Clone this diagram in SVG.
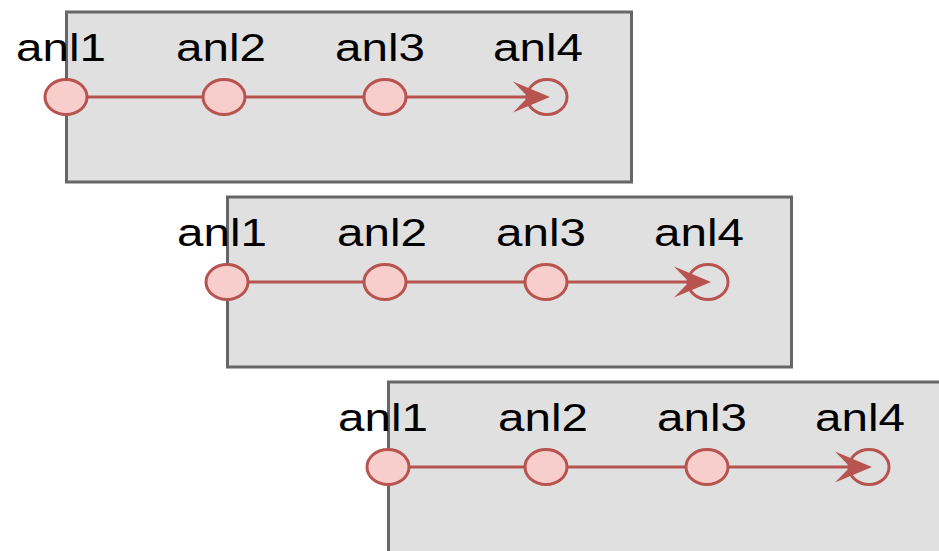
<svg xmlns="http://www.w3.org/2000/svg" width="939" height="551" viewBox="0 0 939 551">
<style>
.panel{fill:#e0e0e0;stroke:#666666;stroke-width:3}
.pt{fill:#f8cecc;stroke:#b85450;stroke-width:3}
.end{fill:none;stroke:#b85450;stroke-width:3}
.ln{stroke:#b85450;stroke-width:3;fill:none}
.ah{fill:#b85450;stroke:none}
.lb{font-family:"Liberation Sans",Arial,sans-serif;font-size:39px;fill:#000;text-anchor:middle}
</style>
<rect width="939" height="551" fill="#ffffff"/>
<g id="panel1">
<rect class="panel" x="66.5" y="12" width="565" height="170"/>
</g>
<g id="panel2">
<rect class="panel" x="227.5" y="197" width="564" height="170"/>
</g>
<g id="panel3">
<rect class="panel" x="388.5" y="382" width="600" height="200"/>
</g>
<g id="connectors">
<line class="ln" x1="87" y1="97" x2="203" y2="97"/>
<line class="ln" x1="245" y1="97" x2="364" y2="97"/>
<line class="ln" x1="406" y1="97" x2="530" y2="97"/>
<polygon class="ah" points="550,97 513,81.5 528,97 513,112.5"/>
<line class="ln" x1="248" y1="282" x2="364" y2="282"/>
<line class="ln" x1="406" y1="282" x2="525" y2="282"/>
<line class="ln" x1="567" y1="282" x2="691" y2="282"/>
<polygon class="ah" points="711,282 674,266.5 689,282 674,297.5"/>
<line class="ln" x1="409" y1="467" x2="525" y2="467"/>
<line class="ln" x1="567" y1="467" x2="686" y2="467"/>
<line class="ln" x1="728" y1="467" x2="852" y2="467"/>
<polygon class="ah" points="872,467 835,451.5 850,467 835,482.5"/>
</g>
<g id="p1-anl1"><ellipse class="pt" cx="66" cy="97" rx="21" ry="17.5"/><text class="lb" transform="translate(61,61) scale(1.22,1)">anl1</text></g>
<g id="p1-anl2"><ellipse class="pt" cx="224" cy="97" rx="21" ry="17.5"/><text class="lb" transform="translate(221,61) scale(1.22,1)">anl2</text></g>
<g id="p1-anl3"><ellipse class="pt" cx="385" cy="97" rx="21" ry="17.5"/><text class="lb" transform="translate(380,61) scale(1.22,1)">anl3</text></g>
<g id="p1-anl4"><ellipse class="end" cx="547" cy="97" rx="20" ry="17.5"/><text class="lb" transform="translate(538,61) scale(1.22,1)">anl4</text></g>
<g id="p2-anl1"><ellipse class="pt" cx="227" cy="282" rx="21" ry="17.5"/><text class="lb" transform="translate(222,246) scale(1.22,1)">anl1</text></g>
<g id="p2-anl2"><ellipse class="pt" cx="385" cy="282" rx="21" ry="17.5"/><text class="lb" transform="translate(382,246) scale(1.22,1)">anl2</text></g>
<g id="p2-anl3"><ellipse class="pt" cx="546" cy="282" rx="21" ry="17.5"/><text class="lb" transform="translate(541,246) scale(1.22,1)">anl3</text></g>
<g id="p2-anl4"><ellipse class="end" cx="708" cy="282" rx="20" ry="17.5"/><text class="lb" transform="translate(699,246) scale(1.22,1)">anl4</text></g>
<g id="p3-anl1"><ellipse class="pt" cx="388" cy="467" rx="21" ry="17.5"/><text class="lb" transform="translate(383,431) scale(1.22,1)">anl1</text></g>
<g id="p3-anl2"><ellipse class="pt" cx="546" cy="467" rx="21" ry="17.5"/><text class="lb" transform="translate(543,431) scale(1.22,1)">anl2</text></g>
<g id="p3-anl3"><ellipse class="pt" cx="707" cy="467" rx="21" ry="17.5"/><text class="lb" transform="translate(702,431) scale(1.22,1)">anl3</text></g>
<g id="p3-anl4"><ellipse class="end" cx="869" cy="467" rx="20" ry="17.5"/><text class="lb" transform="translate(860,431) scale(1.22,1)">anl4</text></g>
</svg>
